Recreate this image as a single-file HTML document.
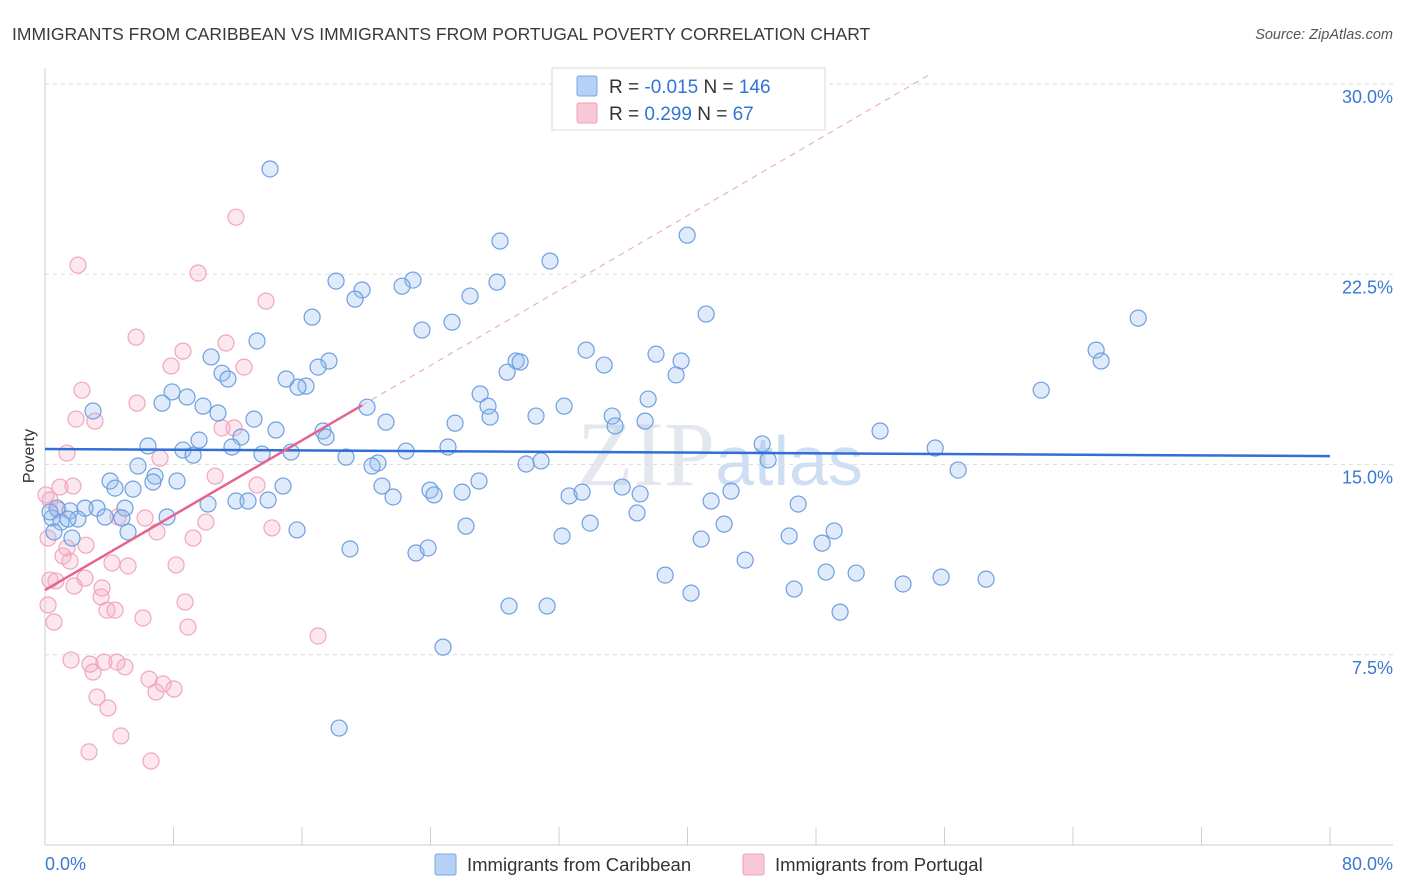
<!DOCTYPE html>
<html><head><meta charset="utf-8"><style>
body{margin:0;background:#fff;font-family:"Liberation Sans",sans-serif;}
svg{display:block}
</style></head><body>
<svg id="chart" width="1406" height="892" xmlns="http://www.w3.org/2000/svg">
<text x="12" y="40" font-size="17.5" fill="#3a3a3a">IMMIGRANTS FROM CARIBBEAN VS IMMIGRANTS FROM PORTUGAL POVERTY CORRELATION CHART</text>
<text x="1393" y="39" font-size="14.5" fill="#555" font-style="italic" text-anchor="end">Source: ZipAtlas.com</text>
<text x="720" y="485" font-size="92" fill="#e3e7ee" text-anchor="middle" font-family="Liberation Serif,serif">ZIP<tspan font-family="Liberation Sans,sans-serif" font-size="70" fill="#cfdff3">atlas</tspan></text>
<g id="grid"></g>
<g id="axes"></g>
<g id="pts"></g>
<g id="trend"></g>
<text transform="translate(34,456) rotate(-90)" font-size="16" fill="#333" text-anchor="middle">Poverty</text>
<g>
<rect x="552" y="68" width="273" height="62" fill="#fff" stroke="#d8d8d8"/>
<rect x="577" y="76" width="20" height="20" fill="#b5d1f5" stroke="#7aa7e3" rx="2"/>
<rect x="577" y="103" width="20" height="20" fill="#f8c8d7" stroke="#ef9fba" rx="2"/>
<text x="609" y="93" font-size="19" fill="#333">R = <tspan fill="#3273d6">-0.015</tspan>   N = <tspan fill="#3273d6">146</tspan></text>
<text x="609" y="120" font-size="19" fill="#333">R =  <tspan fill="#3273d6"> 0.299</tspan>   N =  <tspan fill="#3273d6"> 67</tspan></text>
</g>
<g>
<rect x="435" y="854" width="21" height="21" fill="#b5d1f5" stroke="#7aa7e3" rx="2"/>
<text x="467" y="871" font-size="18.5" fill="#333">Immigrants from Caribbean</text>
<rect x="743" y="854" width="21" height="21" fill="#f8c8d7" stroke="#ef9fba" rx="2"/>
<text x="775" y="871" font-size="18.5" fill="#333">Immigrants from Portugal</text>
</g>
</svg>
<script>
const xTickVals=[0,8,16,24,32,40,48,56,64,72,80];
const yTickVals=[7.5,15,22.5,30];
const yTickLabels=["7.5%","15.0%","22.5%","30.0%"];
const xEndLabels=["0.0%","80.0%"];
const caribX=[14.01,28.33,39.98,31.44,18.12,19.74,22.91,22.23,19.30,28.14,26.46,16.63,25.34,23.47,41.16,68.06,13.20,10.34,11.02,11.39,17.68,17.00,16.25,15.75,15.01,29.33,29.58,28.77,33.69,34.81,38.04,39.60,39.29,65.44,65.75,62.02,2.99,7.91,7.29,8.84,9.84,10.77,13.01,14.38,12.20,17.31,17.50,21.23,20.05,27.09,27.58,27.71,25.53,30.57,32.32,35.31,35.49,37.55,37.36,51.99,6.41,8.59,9.59,9.22,11.64,13.51,15.32,18.74,20.73,20.36,22.48,25.09,30.88,29.95,44.65,45.02,55.42,56.85,5.79,4.05,4.36,6.85,6.72,8.22,5.48,11.89,12.64,13.89,14.82,10.15,20.98,21.67,23.97,24.22,25.97,27.02,32.63,33.44,35.93,37.05,42.71,41.47,46.89,3.24,4.98,4.79,2.49,3.74,1.56,0.75,0.44,1.00,2.05,1.43,5.17,7.60,15.69,26.21,33.94,36.86,42.28,0.31,0.56,1.68,18.99,23.10,23.85,32.19,40.85,46.33,48.38,49.13,43.59,38.61,48.63,50.50,53.42,55.79,58.59,40.22,46.64,28.89,31.26,49.50,24.78,18.31];
const caribY=[26.65,23.81,24.04,23.02,22.23,21.88,22.27,22.03,21.52,22.19,21.64,20.81,20.61,20.30,20.93,20.77,19.87,19.24,18.60,18.37,19.08,18.84,18.09,18.05,18.37,19.08,19.04,18.64,19.51,18.92,19.35,19.08,18.53,19.51,19.08,17.93,17.11,17.86,17.42,17.66,17.30,17.03,16.79,16.36,16.08,16.32,16.08,16.67,17.26,17.78,17.30,16.87,16.63,16.91,17.30,16.91,16.52,17.58,16.71,16.32,15.73,15.57,15.96,15.37,15.69,15.41,15.49,15.29,15.06,14.94,15.53,15.69,15.14,15.02,15.81,15.18,15.65,14.78,14.94,14.35,14.07,14.54,14.31,14.35,14.03,13.56,13.56,13.60,14.15,13.44,14.15,13.72,13.99,13.80,13.91,14.35,13.76,13.91,14.11,13.84,13.95,13.56,13.44,13.28,13.28,12.89,13.28,12.93,13.17,13.28,12.89,12.73,12.85,12.85,12.34,12.93,12.42,12.57,12.69,13.09,12.65,13.13,12.34,12.10,11.67,11.51,11.71,12.18,12.06,12.18,11.90,12.38,11.23,10.64,10.76,10.72,10.29,10.56,10.48,9.93,10.09,9.42,9.42,9.18,7.80,4.61];
const portX=[11.89,2.05,9.53,13.76,5.67,8.59,11.27,12.39,7.85,2.30,5.73,1.93,3.11,11.77,11.02,7.16,1.37,10.59,13.20,0.06,0.93,1.74,6.23,4.55,10.02,14.13,6.97,9.22,2.55,1.37,1.12,1.56,4.17,5.17,8.16,0.31,0.68,2.49,3.55,1.81,3.49,8.72,0.19,3.86,4.36,6.10,8.90,0.56,17.00,1.62,2.80,2.99,3.67,4.48,4.98,6.48,7.35,8.03,3.24,6.91,3.92,4.73,2.74,6.60,0.31,0.81,0.19];
const portY=[24.75,22.86,22.55,21.44,20.02,19.47,19.79,18.84,18.88,17.93,17.42,16.79,16.71,16.44,16.44,15.25,15.45,14.54,14.19,13.80,14.11,14.15,12.89,12.93,12.73,12.50,12.34,12.10,11.82,11.71,11.39,11.19,11.12,11.00,11.04,10.45,10.41,10.52,10.13,10.21,9.78,9.58,9.46,9.26,9.26,8.95,8.59,8.79,8.24,7.29,7.13,6.82,7.21,7.21,7.02,6.54,6.35,6.15,5.83,6.03,5.40,4.30,3.67,3.31,13.60,13.20,12.10];
const caribTrend=[15.61,15.33]; // y at x=0 and x=80
const portTrend=[10.05,0.369,19.74,55.1]; // intercept, slope, solid end x, dashed end x

const NS="http://www.w3.org/2000/svg";
const X0=45,X1=1330,Y0=845,Ytop=84;
function sx(v){return X0+(v-0)/80*(X1-X0);}
function sy(v){return Y0-(v/30)*(Y0-Ytop);}
function mk(tag,attrs,parent){const e=document.createElementNS(NS,tag);for(const k in attrs)e.setAttribute(k,attrs[k]);parent.appendChild(e);return e;}
const grid=document.getElementById('grid'),axes=document.getElementById('axes'),pts=document.getElementById('pts'),trend=document.getElementById('trend');
yTickVals.forEach((v,i)=>{
 const l=mk('line',{x1:X0,x2:1393,y1:sy(v),y2:sy(v),stroke:'#dedede','stroke-dasharray':'4,4'},grid);
 
 
 const t=mk('text',{x:1393,y:sy(v)+19,'font-size':18,fill:'#3a78d4','text-anchor':'end'},grid);
 t.textContent=yTickLabels[i];
 
 
});
const ya=mk('line',{x1:X0,x2:X0,y1:68,y2:Y0,stroke:'#cfcfcf'},axes);


const xa=mk('line',{x1:X0,x2:1393,y1:Y0,y2:Y0,stroke:'#cfcfcf'},axes);


xTickVals.forEach(v=>{
 const t=mk('line',{x1:sx(v),x2:sx(v),y1:Y0,y2:Y0-18,stroke:'#cfcfcf'},axes);
 
 
});
[[0,'start',45],[80,'end',1393]].forEach((d,i)=>{
 const t=mk('text',{x:d[2],y:870,'font-size':18,fill:'#3a78d4','text-anchor':d[1]},axes);
 t.textContent=xEndLabels[i];
 
 
});
portX.forEach((x,i)=>{
 const c=mk('circle',{cx:sx(x),cy:sy(portY[i]),r:8,fill:'rgba(244,170,196,0.28)',stroke:'#f0a6be','stroke-width':1.2},pts);
 
 
});
caribX.forEach((x,i)=>{
 const c=mk('circle',{cx:sx(x),cy:sy(caribY[i]),r:8,fill:'rgba(150,190,240,0.3)',stroke:'#6f9fe0','stroke-width':1.2},pts);
 
 
});
const bl=mk('line',{x1:sx(0),y1:sy(caribTrend[0]),x2:sx(80),y2:sy(caribTrend[1]),stroke:'#2f6fd6','stroke-width':2.5},trend);


const pf=x=>portTrend[0]+portTrend[1]*x;
const pd=mk('line',{x1:sx(portTrend[2]),y1:sy(pf(portTrend[2])),x2:sx(portTrend[3]),y2:sy(pf(portTrend[3])),stroke:'#eab0c4','stroke-width':1.2,'stroke-dasharray':'6,5'},trend);


const pl=mk('line',{x1:sx(0),y1:sy(pf(0)),x2:sx(portTrend[2]),y2:sy(pf(portTrend[2])),stroke:'#e8628e','stroke-width':2.5},trend);


</script>
</body></html>
